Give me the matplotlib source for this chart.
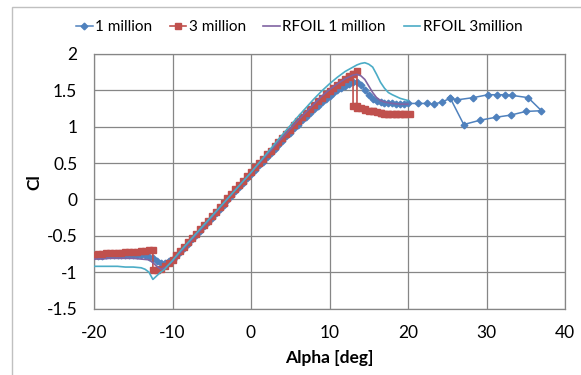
import matplotlib.pyplot as plt
from matplotlib.patches import Rectangle
from matplotlib.ticker import FuncFormatter

plt.rcParams['font.family'] = ['Lato', 'DejaVu Sans']
plt.rcParams['font.size'] = 12.5
plt.rcParams['axes.unicode_minus'] = False

# measured lift curve, Re = 1 million (sweep up to 37 deg and back)
alpha_1m = [-20, -19.5, -19, -18.5, -18, -17.5, -17, -16.5, -16, -15.5, -15, -14.5, -14, -13.5,
            -13, -12.5, -12, -11.5, -11, -10.5, -10, -9.5, -9, -8.5, -8, -7.5, -7, -6.5, -6,
            -5.5, -5, -4.5, -4, -3.5, -3, -2.5, -2, -1.5, -1, -0.5, 0, 0.5, 1, 1.5, 2, 2.5, 3,
            3.5, 4, 4.5, 5, 5.5, 6, 6.5, 7, 7.5, 8, 8.5, 9, 9.5, 10, 10.5, 11, 11.5, 12, 12.5,
            13, 13.5, 14, 14.5, 15, 15.5, 16, 16.5, 17, 17.5, 18, 18.5, 19, 19.5, 20,
            21.3, 22.4, 23.3, 24.3, 25.4, 26.3, 28.3, 30.2, 31.3, 32.3, 33.3, 35.3, 37.0,
            35.0, 33.1, 31.2, 29.2, 27.1, 25.4]
cl_1m = [-0.78, -0.78, -0.78, -0.77, -0.77, -0.77, -0.77, -0.76, -0.76, -0.76, -0.76, -0.76, -0.76, -0.77,
         -0.79, -0.80, -0.85, -0.88, -0.87, -0.84, -0.83, -0.78, -0.72, -0.67, -0.61, -0.55, -0.49, -0.43, -0.37,
         -0.31, -0.25, -0.19, -0.13, -0.07, -0.01, 0.05, 0.11, 0.17, 0.23, 0.29, 0.35, 0.41, 0.47, 0.52, 0.58, 0.64, 0.70,
         0.75, 0.81, 0.87, 0.92, 0.98, 1.03, 1.09, 1.14, 1.19, 1.24, 1.29, 1.34, 1.38, 1.42, 1.46, 1.50, 1.53, 1.56, 1.59,
         1.61, 1.62, 1.58, 1.51, 1.43, 1.38, 1.35, 1.34, 1.33, 1.32, 1.32, 1.31, 1.31, 1.31, 1.32,
         1.32, 1.32, 1.31, 1.34, 1.39, 1.37, 1.40, 1.44, 1.44, 1.44, 1.43, 1.40, 1.22,
         1.21, 1.16, 1.13, 1.09, 1.03, 1.39]

# measured lift curve, Re = 3 million (with stall hysteresis near 13 deg)
alpha_3m = [-20, -19.5, -19, -18.5, -18, -17.5, -17, -16.5, -16, -15.5, -15, -14.5, -14, -13.5,
            -13, -12.5, -12.5, -12, -11.5, -11, -10.5, -10, -9.5, -9, -8.5, -8, -7.5, -7, -6.5,
            -6, -5.5, -5, -4.5, -4, -3.5, -3, -2.5, -2, -1.5, -1, -0.5, 0, 0.5, 1, 1.5, 2, 2.5,
            3, 3.5, 4, 4.5, 5, 5.5, 6, 6.5, 7, 7.5, 8, 8.5, 9, 9.5, 10, 10.5, 11, 11.5, 12,
            12.5, 13, 13.5, 13.5, 14, 14.5, 15, 15.5, 16, 16.5, 17, 17.5, 18, 18.5, 19, 19.5,
            20.2, 19.5, 18.5, 17.5, 16.5, 15.5, 14.5, 13.5, 13.0, 13.0, 12.5]
cl_3m = [-0.76, -0.75, -0.75, -0.74, -0.74, -0.73, -0.73, -0.73, -0.72, -0.72, -0.72, -0.72, -0.71, -0.71,
         -0.70, -0.69, -0.97, -0.97, -0.95, -0.92, -0.88, -0.83, -0.77, -0.71, -0.65, -0.59, -0.53, -0.47, -0.41,
         -0.35, -0.29, -0.23, -0.17, -0.11, -0.05, 0.02, 0.08, 0.14, 0.20, 0.26, 0.32, 0.38, 0.44, 0.50, 0.56, 0.62, 0.67,
         0.73, 0.79, 0.85, 0.90, 0.96, 1.02, 1.08, 1.13, 1.19, 1.24, 1.30, 1.35, 1.40, 1.45, 1.49, 1.53, 1.57, 1.61, 1.65,
         1.69, 1.73, 1.77, 1.29, 1.26, 1.24, 1.22, 1.21, 1.20, 1.19, 1.18, 1.18, 1.17, 1.17, 1.17, 1.17,
         1.17, 1.17, 1.17, 1.18, 1.19, 1.21, 1.23, 1.26, 1.28, 1.72, 1.70]

# RFOIL predictions
alpha_rf1 = [-20, -19, -18, -17, -16, -15, -14, -13, -12.5, -12, -11.5, -11, -10.5, -10, -9, -8, -6, -4,
             -2, 0, 2, 4, 6, 8, 9, 10, 11, 12, 13, 13.5, 14, 14.5, 15, 15.5, 16, 16.5, 17, 18, 19, 20]
cl_rf1 = [-0.82, -0.82, -0.81, -0.81, -0.81, -0.81, -0.82, -0.83, -0.87, -0.92, -0.96, -0.94, -0.90, -0.85,
          -0.73, -0.61, -0.37, -0.12, 0.13, 0.37, 0.61, 0.85, 1.09, 1.31, 1.42, 1.51, 1.59, 1.66, 1.71, 1.72,
          1.70, 1.65, 1.56, 1.47, 1.40, 1.36, 1.34, 1.32, 1.31, 1.31]

alpha_rf3 = [-20, -19, -18, -17, -16, -15, -14, -13.5, -13, -12.5, -12, -11.5, -11, -10.5, -10, -9, -8,
             -6, -4, -2, 0, 2, 4, 6, 8, 9, 10, 11, 12, 13, 13.5, 14, 14.5, 15, 15.5, 16, 16.5, 17, 17.5,
             18, 19, 20]
cl_rf3 = [-0.92, -0.92, -0.92, -0.92, -0.93, -0.93, -0.94, -0.96, -1.00, -1.10, -1.05, -1.00, -0.96, -0.90,
          -0.84, -0.71, -0.59, -0.35, -0.11, 0.13, 0.37, 0.63, 0.89, 1.14, 1.38, 1.49, 1.59, 1.68, 1.76, 1.82,
          1.85, 1.87, 1.88, 1.86, 1.82, 1.72, 1.61, 1.53, 1.47, 1.44, 1.39, 1.36]

fig = plt.figure(figsize=(5.81, 3.75), dpi=100)
ax = fig.add_axes([94 / 581, 1 - 308.5 / 375, 471 / 581, 254.5 / 375])

# outer chart border
fig.add_artist(Rectangle((12 / 581, -0.1), 1.2, 1.1 - 6.5 / 375, transform=fig.transFigure,
                         fill=False, edgecolor='#C0C0C0', lw=1))

# series are stacked in legend order, later ones on top
ax.plot(alpha_1m, cl_1m, color='#4F81BD', lw=1.1, marker='D', ms=3.4, label='1 million', zorder=2)
ax.plot(alpha_3m, cl_3m, color='#C0504D', lw=1.2, marker='s', ms=4.6, label='3 million', zorder=3)
ax.plot(alpha_rf1, cl_rf1, color='#8064A2', lw=1.2, label='RFOIL 1 million', zorder=4)
ax.plot(alpha_rf3, cl_rf3, color='#4BACC6', lw=1.2, label='RFOIL 3million', zorder=5)

ax.set_xlim(-20, 40)
ax.set_ylim(-1.5, 2)
ax.set_xticks(range(-20, 41, 10))
ax.set_yticks([-1.5, -1, -0.5, 0, 0.5, 1, 1.5, 2])
ax.yaxis.set_major_formatter(FuncFormatter(lambda v, p: '{:g}'.format(v)))
ax.tick_params(length=0)
ax.tick_params(axis='x', pad=12)
ax.tick_params(axis='y', pad=12)
ax.grid(color='#868686', lw=0.9)
ax.set_axisbelow(True)
for s in ax.spines.values():
    s.set_color('#868686')
    s.set_linewidth(0.9)

fig.text(329.5 / 581, 1 - 358 / 375, 'Alpha [deg]', ha='center', va='center', fontweight='bold')
fig.text(34 / 581, 1 - 182 / 375, 'Cl', ha='center', va='center', rotation=90, fontweight='bold')

fig.legend(loc='center', bbox_to_anchor=(299 / 581, 1 - 27 / 375), ncol=4, frameon=False,
           fontsize=11, handlelength=1.1, handletextpad=0.15, columnspacing=1.15, borderpad=0)

fig.savefig('out.png', dpi=100)
